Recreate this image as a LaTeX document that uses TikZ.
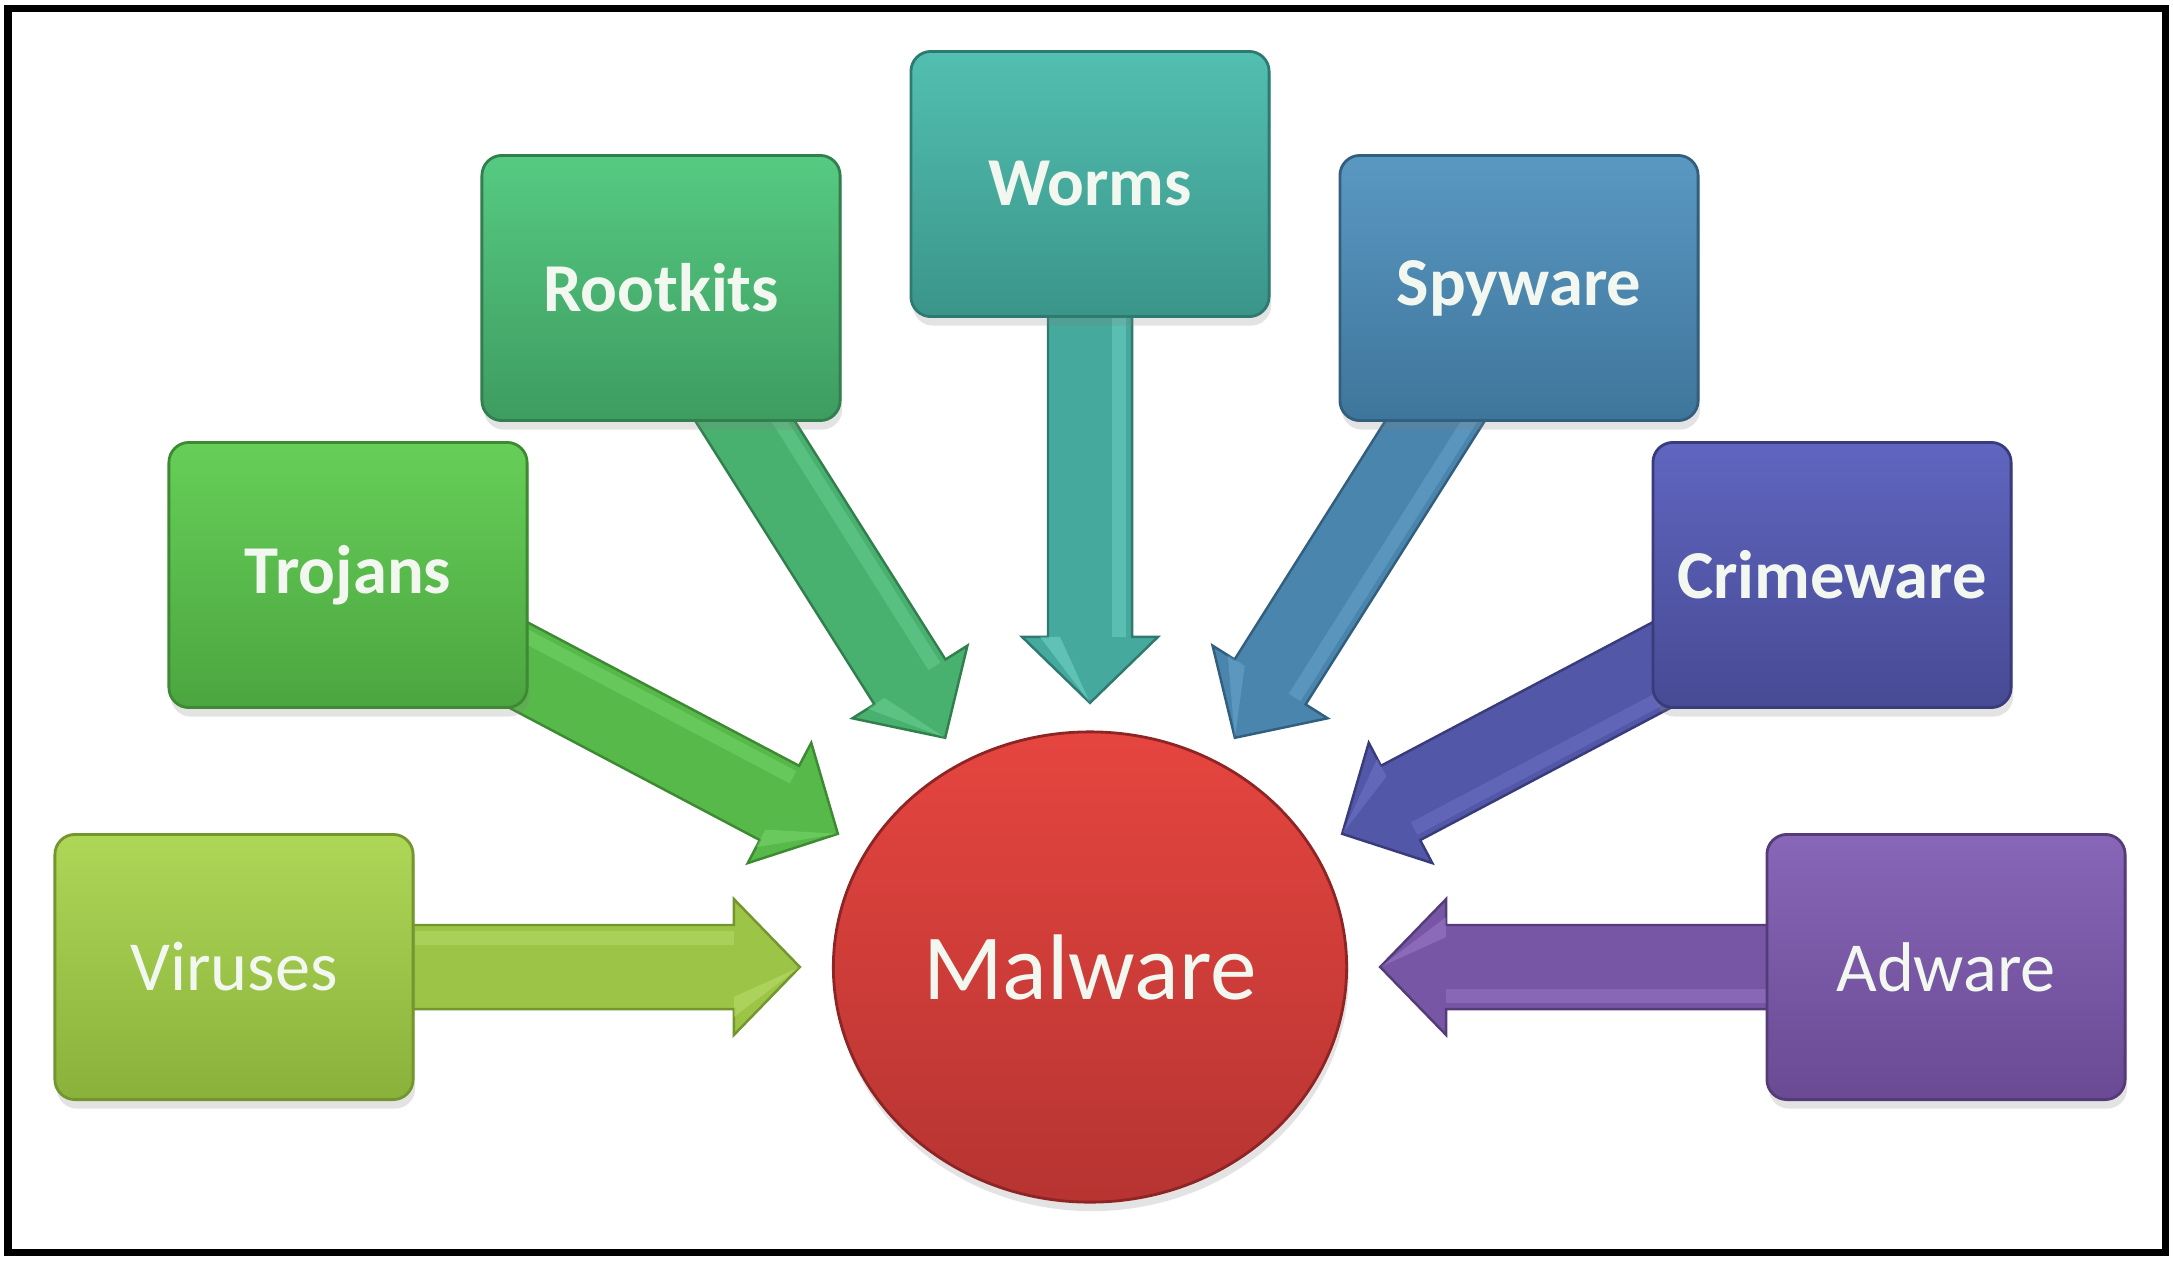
\documentclass[tikz,border=0pt]{standalone}
\usepackage{fontspec}
\setmainfont{Carlito}
\usetikzlibrary{calc,shadows,shapes.geometric}
\pgfdeclarelayer{bg}
\pgfsetlayers{bg,main}
% colours: T top, B bottom, M mid, D dark edge, L light
\definecolor{virT}{HTML}{AED657}\definecolor{virB}{HTML}{8AB23B}\definecolor{virM}{HTML}{9CC447}\definecolor{virD}{HTML}{74962E}\definecolor{virL}{HTML}{C4E87A}
\definecolor{troT}{HTML}{66CF58}\definecolor{troB}{HTML}{4CA540}\definecolor{troM}{HTML}{56B94A}\definecolor{troD}{HTML}{3D8A33}\definecolor{troL}{HTML}{86E27A}
\definecolor{rooT}{HTML}{56CA82}\definecolor{rooB}{HTML}{3E9C61}\definecolor{rooM}{HTML}{48B170}\definecolor{rooD}{HTML}{327F4E}\definecolor{rooL}{HTML}{78DDA0}
\definecolor{worT}{HTML}{52BFB1}\definecolor{worB}{HTML}{3A9589}\definecolor{worM}{HTML}{45AA9D}\definecolor{worD}{HTML}{2F7A70}\definecolor{worL}{HTML}{86E6DA}
\definecolor{spyT}{HTML}{5A98C2}\definecolor{spyB}{HTML}{3E759B}\definecolor{spyM}{HTML}{4A85AE}\definecolor{spyD}{HTML}{335F7F}\definecolor{spyL}{HTML}{78B4DC}
\definecolor{criT}{HTML}{6065BF}\definecolor{criB}{HTML}{474A94}\definecolor{criM}{HTML}{5257A8}\definecolor{criD}{HTML}{393C7A}\definecolor{criL}{HTML}{7C80D4}
\definecolor{adwT}{HTML}{8866B8}\definecolor{adwB}{HTML}{694A93}\definecolor{adwM}{HTML}{7757A5}\definecolor{adwD}{HTML}{553C78}\definecolor{adwL}{HTML}{A888D8}
\definecolor{malT}{HTML}{E6453F}\definecolor{malB}{HTML}{B63432}\definecolor{malD}{HTML}{8E2424}
\definecolor{labtxt}{HTML}{F2F8F0}
\tikzset{
  catbox/.style={rounded corners=0.2cm, minimum width=3.58cm, minimum height=2.65cm,
    inner sep=0pt, text=labtxt, draw=#1D, line width=0.8pt,
    top color=#1T, bottom color=#1B,
    drop shadow={opacity=0.22, shadow xshift=0.02cm, shadow yshift=-0.09cm}},
  boldlab/.style={font=\bfseries\fontsize{19.5}{23}\selectfont},
  reglab/.style={font=\fontsize{20}{24}\selectfont},
  malnode/.style={ellipse, minimum width=5.13cm, minimum height=4.7cm, inner sep=0pt,
    text=labtxt, draw=malD, line width=0.8pt, top color=malT, bottom color=malB,
    font=\fontsize{26.5}{30}\selectfont,
    drop shadow={opacity=0.22, shadow xshift=0.02cm, shadow yshift=-0.09cm}},
  framebox/.style={draw=black, line width=0.07cm}
}
% fat arrow: #1 start node, #2 tip coordinate, #3 colour prefix
\newcommand\fatarr[3]{%
  \coordinate (hb) at ($(#2)!0.66cm!(#1.center)$);
  \fill[black, opacity=0.12, shift={(0.02cm,-0.07cm)}]
    ($(#1.center)!0.42cm!90:(#2)$) -- ($(hb)!0.42cm!90:(#2)$) --
    ($(hb)!0.68cm!90:(#2)$) -- (#2) -- ($(hb)!0.68cm!-90:(#2)$) --
    ($(hb)!0.42cm!-90:(#2)$) -- ($(#1.center)!0.42cm!-90:(#2)$) -- cycle;
  \filldraw[fill=#3M, draw=#3D, line width=0.7pt, line join=miter]
    ($(#1.center)!0.42cm!90:(#2)$) -- ($(hb)!0.42cm!90:(#2)$) --
    ($(hb)!0.68cm!90:(#2)$) -- (#2) -- ($(hb)!0.68cm!-90:(#2)$) --
    ($(hb)!0.42cm!-90:(#2)$) -- ($(#1.center)!0.42cm!-90:(#2)$) -- cycle;
  \fill[#3L, opacity=0.35]
    ($(#1.center)!0.22cm!90:(#2)$) -- ($(hb)!0.22cm!90:(#2)$) --
    ($(hb)!0.36cm!90:(#2)$) -- ($(#1.center)!0.36cm!90:(#2)$) -- cycle;
  \fill[#3L, opacity=0.4]
    (#2) -- ($(hb)!0.5cm!-90:(#2)$) -- ($(hb)!0.3cm!-90:(#2)$) -- cycle;
}
\begin{document}
\begin{tikzpicture}[x=0.01cm, y=-0.01cm]
\useasboundingbox (0,0) rectangle (2173,1260);

\node[malnode] (mal) at (1090,967) {Malware};
\node[catbox=vir, reglab]  (vir) at (234,967)  {Viruses};
\node[catbox=tro, boldlab] (tro) at (348,575)  {Trojans};
\node[catbox=roo, boldlab] (roo) at (661,288)  {Rootkits};
\node[catbox=wor, boldlab] (wor) at (1090,184) {Worms};
\node[catbox=spy, boldlab] (spy) at (1519,288) {Spyware};
\node[catbox=cri, boldlab] (cri) at (1832,575) {Crimeware};
\node[catbox=adw, reglab]  (adw) at (1946,967) {Adware};

\coordinate (tvir) at ($(mal.center)!2.90cm!(vir.center)$);
\coordinate (ttro) at ($(mal.center)!2.85cm!(tro.center)$);
\coordinate (troo) at ($(mal.center)!2.71cm!(roo.center)$);
\coordinate (twor) at ($(mal.center)!2.64cm!(wor.center)$);
\coordinate (tspy) at ($(mal.center)!2.71cm!(spy.center)$);
\coordinate (tcri) at ($(mal.center)!2.85cm!(cri.center)$);
\coordinate (tadw) at ($(mal.center)!2.90cm!(adw.center)$);

\begin{pgfonlayer}{bg}
\fill[white] (0,0) rectangle (2173,1260);
\fatarr{vir}{tvir}{vir}
\fatarr{tro}{ttro}{tro}
\fatarr{roo}{troo}{roo}
\fatarr{wor}{twor}{wor}
\fatarr{spy}{tspy}{spy}
\fatarr{cri}{tcri}{cri}
\fatarr{adw}{tadw}{adw}
\end{pgfonlayer}
\draw[framebox] (8,8.5) rectangle (2165,1252);
\end{tikzpicture}
\end{document}
